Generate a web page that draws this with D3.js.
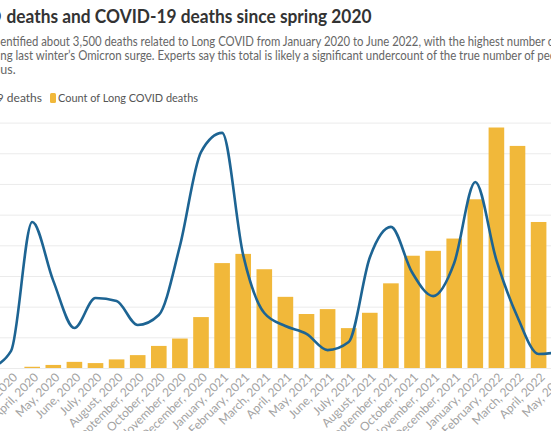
<!DOCTYPE html>
<html>
<head>
<meta charset="utf-8">
<script src="https://cdn.jsdelivr.net/npm/d3@7"></script>
<style>
  html, body { margin: 0; padding: 0; background: #fff; overflow: hidden; }
  svg { display: block; font-family: Lato, "Open Sans", sans-serif; }
</style>
</head>
<body>
<svg id="chart" width="551" height="431"></svg>
<script>
// ---- data ----
const months = [
  "February, 2020", "March, 2020", "April, 2020", "May, 2020", "June, 2020", "July, 2020",
  "August, 2020", "September, 2020", "October, 2020", "November, 2020", "December, 2020",
  "January, 2021", "February, 2021", "March, 2021", "April, 2021", "May, 2021", "June, 2021",
  "July, 2021", "August, 2021", "September, 2021", "October, 2021", "November, 2021",
  "December, 2021", "January, 2022", "February, 2022", "March, 2022", "April, 2022", "May, 2022"
];
const longCovidDeaths = [
  0, 0, 2, 5, 10, 8,
  14, 21, 36, 48, 83,
  171, 186, 161, 116, 88, 96,
  65, 90, 138, 183, 191,
  211, 275, 392, 362, 238, 170
];
const covidDeaths = [
  0, 7000, 59500, 35500, 16300, 28500,
  27300, 17500, 21600, 49700, 88000,
  95800, 46000, 22400, 17100, 13900, 7300,
  10600, 45000, 57500, 39000, 29300,
  42800, 75800, 44000, 20800, 5700, 6500
];
const barTicks = [0, 50, 100, 150, 200, 250, 300, 350, 400];
const covidMax = 100000;

const titleText = "deaths and COVID-19 deaths since spring 2020";
const titlePrefix = "Long COVID";
const subtitleLines = [
  "entified about 3,500 deaths related to Long COVID from January 2020 to June 2022, with the highest number o",
  "ng last winter\u2019s Omicron surge. Experts say this total is likely a significant undercount of the true number of peo",
  "us."
];
const legendLine = "COVID-19 deaths";
const legendBar = "Count of Long COVID deaths";

// ---- styles ----
const barColor = "#f1b83a";
const lineColor = "#1d6493";

const svg = d3.select("#chart");

// ---- scales ----
const x = d3.scaleBand()
  .domain(months)
  .range([-20.55, -20.55 + months.length * 21.1])
  .paddingInner(0.26)
  .paddingOuter(0.13);

const yBar = d3.scaleLinear().domain([0, 400]).range([368, 122.6]);
const yLine = d3.scaleLinear().domain([0, covidMax]).range([368, 122.6]);

// ---- header ----
svg.append("text")
  .attr("x", 1.5).attr("y", 22.5)
  .attr("text-anchor", "end")
  .attr("font-size", 18).attr("font-weight", 700).attr("fill", "#333")
  .text(titlePrefix);
svg.append("text")
  .attr("x", 6.5).attr("y", 22.5)
  .attr("font-size", 18).attr("font-weight", 700).attr("fill", "#333")
  .attr("textLength", 365).attr("lengthAdjust", "spacingAndGlyphs")
  .text(titleText);

const subLens = [554, 556, null];
subtitleLines.forEach((s, i) => {
  const t = svg.append("text")
    .attr("x", 0.3).attr("y", 45.5 + i * 14)
    .attr("font-size", 12.5).attr("fill", "#666")
    .text(s);
  if (subLens[i]) t.attr("textLength", subLens[i]).attr("lengthAdjust", "spacingAndGlyphs");
});

// ---- legend ----
svg.append("text")
  .attr("x", 42).attr("y", 102)
  .attr("text-anchor", "end")
  .attr("font-size", 12).attr("fill", "#555")
  .text(legendLine);
svg.append("rect")
  .attr("x", 50).attr("y", 93).attr("width", 6).attr("height", 10).attr("rx", 1.5)
  .attr("fill", barColor);
svg.append("text")
  .attr("x", 58).attr("y", 102)
  .attr("font-size", 12).attr("fill", "#555")
  .attr("textLength", 140).attr("lengthAdjust", "spacingAndGlyphs")
  .text(legendBar);

// ---- gridlines ----
const grid = svg.append("g")
  .call(d3.axisLeft(yBar).tickValues(barTicks).tickSize(-600).tickFormat(""));
grid.select(".domain").remove();
grid.selectAll("line").attr("stroke", "#ebebeb").attr("stroke-width", 1);
grid.attr("transform", "translate(551,0)")
  .selectAll("line").attr("x2", -600);

// ---- bars ----
svg.append("g")
  .selectAll("rect")
  .data(months.map((m, i) => ({ m, v: longCovidDeaths[i] })))
  .join("rect")
  .attr("x", d => x(d.m))
  .attr("width", x.bandwidth())
  .attr("y", d => yBar(d.v))
  .attr("height", d => yBar(0) - yBar(d.v))
  .attr("fill", barColor);

// ---- line ----
const line = d3.line()
  .x((d, i) => x(months[i]) + x.bandwidth() / 2)
  .y(d => yLine(d))
  .curve(d3.curveMonotoneX);
svg.append("path")
  .datum(covidDeaths)
  .attr("d", line)
  .attr("fill", "none")
  .attr("stroke", lineColor)
  .attr("stroke-width", 2.6)
  .attr("stroke-linejoin", "round");

// ---- x axis labels ----
const xAxis = svg.append("g")
  .attr("transform", "translate(0,368)")
  .call(d3.axisBottom(x).tickSize(0).tickPadding(0));
xAxis.select(".domain").remove();
xAxis.selectAll("text")
  .attr("y", 0).attr("dy", 0)
  .attr("text-anchor", "end")
  .attr("transform", "translate(7,10) rotate(-45)")
  .attr("font-family", "Lato, sans-serif")
  .attr("font-size", 12)
  .attr("fill", "#a3a3a3");
</script>
</body>
</html>
